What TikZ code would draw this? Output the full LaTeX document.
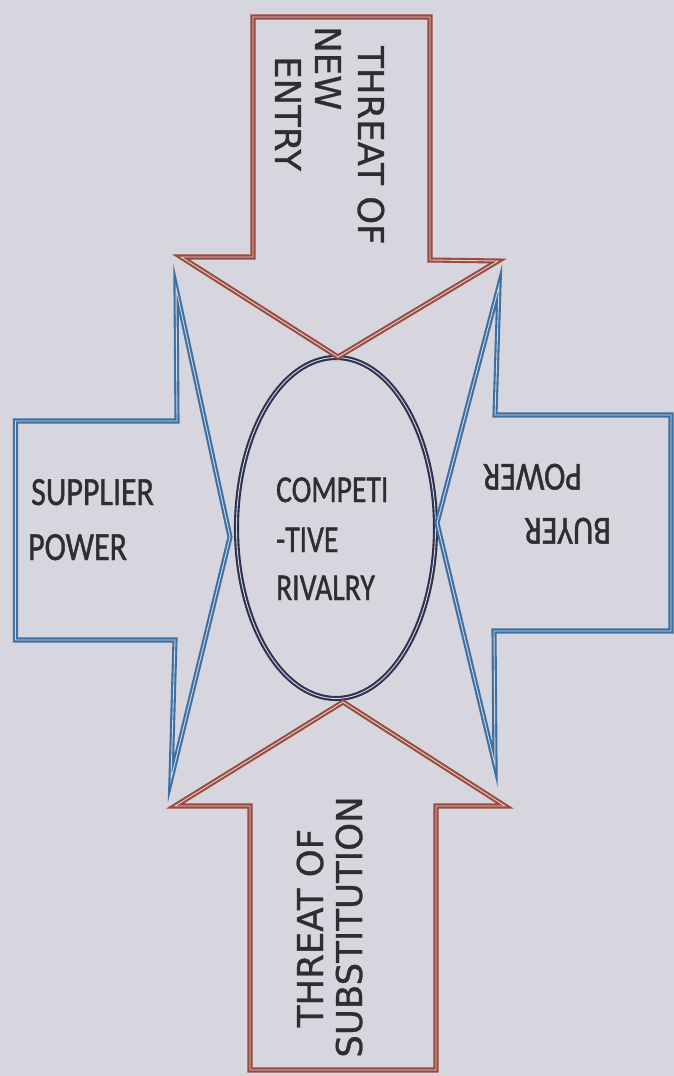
\documentclass[tikz,border=0pt]{standalone}
\usepackage{fontspec}
\setmainfont{Carlito}[FakeBold=1.2]
\newfontfamily\hfont{Carlito}[FakeBold=1.2]
\newfontfamily\vfont{DejaVu Sans}[FakeBold=0.8]
\usetikzlibrary{shapes.geometric}
\definecolor{bgc}{HTML}{D7D6DE}
\definecolor{arrred}{HTML}{9C4A3B}
\definecolor{arrblue}{HTML}{3A70A4}
\definecolor{ringc}{HTML}{2C3250}
\definecolor{txt}{HTML}{2E2E2E}
\tikzset{
  outline/.style={line width=2.1pt, double=bgc, double distance=0.9pt, line join=miter},
  redarrow/.style={outline, draw=arrred},
  bluearrow/.style={outline, draw=arrblue},
  ring/.style={outline, draw=ringc},
  hlab/.style={font=\hfont\fontsize{40}{48}\selectfont, text=txt, inner sep=0pt, xscale=0.8, anchor=base west},
  clab/.style={font=\hfont\fontsize{38}{46}\selectfont, text=txt, inner sep=0pt, xscale=0.78, anchor=base west},
  vlab/.style={font=\vfont\fontsize{35.5}{42}\selectfont, text=txt, inner sep=0pt}
}
\begin{document}
\begin{tikzpicture}[x=1pt,y=-1pt]
\useasboundingbox (0,0) rectangle (674,1076);
\fill[bgc] (0,0) rectangle (674,1076);

% central ellipse
\node[ring, ellipse, minimum width=199pt, minimum height=341pt, inner sep=0pt] (rival) at (336,528) {};

% top arrow: threat of new entry
\draw[redarrow] (253,17) -- (430,17) -- (430,260) -- (498,261) -- (338,357) -- (181,257) -- (253,257) -- cycle;
% bottom arrow: threat of substitution
\draw[redarrow] (343,702) -- (505,806) -- (436,806) -- (436,1070) -- (250,1070) -- (250,806) -- (175,806) -- cycle;
% left arrow: supplier power
\draw[bluearrow] (15.5,421) -- (177,421) -- (176,288) -- (230,537) -- (171,779) -- (175,640) -- (15.5,640) -- cycle;
% right arrow: buyer power
\draw[bluearrow] (671,415) -- (495,415) -- (499,286) -- (437,523) -- (495,765) -- (494,631) -- (671,631) -- cycle;

% labels
\node[vlab, rotate=-90, anchor=base west] (ne1) at (358,46) {THREAT OF};
\node[vlab, rotate=-90, anchor=base west] (ne2) at (315,26) {NEW};
\node[vlab, rotate=-90, anchor=base west] (ne3) at (275,56) {ENTRY};

\node[vlab, rotate=90, anchor=base] (ts1) at (323,928) {THREAT OF};
\node[vlab, rotate=90, anchor=base] (ts2) at (362,927) {SUBSTITUTION};

\node[hlab] (sp1) at (31,505) {SUPPLIER};
\node[hlab] (sp2) at (28,560) {POWER};

\node[hlab, rotate=180] (bp1) at (611,518) {BUYER};
\node[hlab, rotate=180] (bp2) at (582,464) {POWER};

\node[clab] (cr1) at (276,502) {COMPETI};
\node[clab] (cr2) at (276,552) {-TIVE};
\node[clab] (cr3) at (276,600) {RIVALRY};
\end{tikzpicture}
\end{document}
